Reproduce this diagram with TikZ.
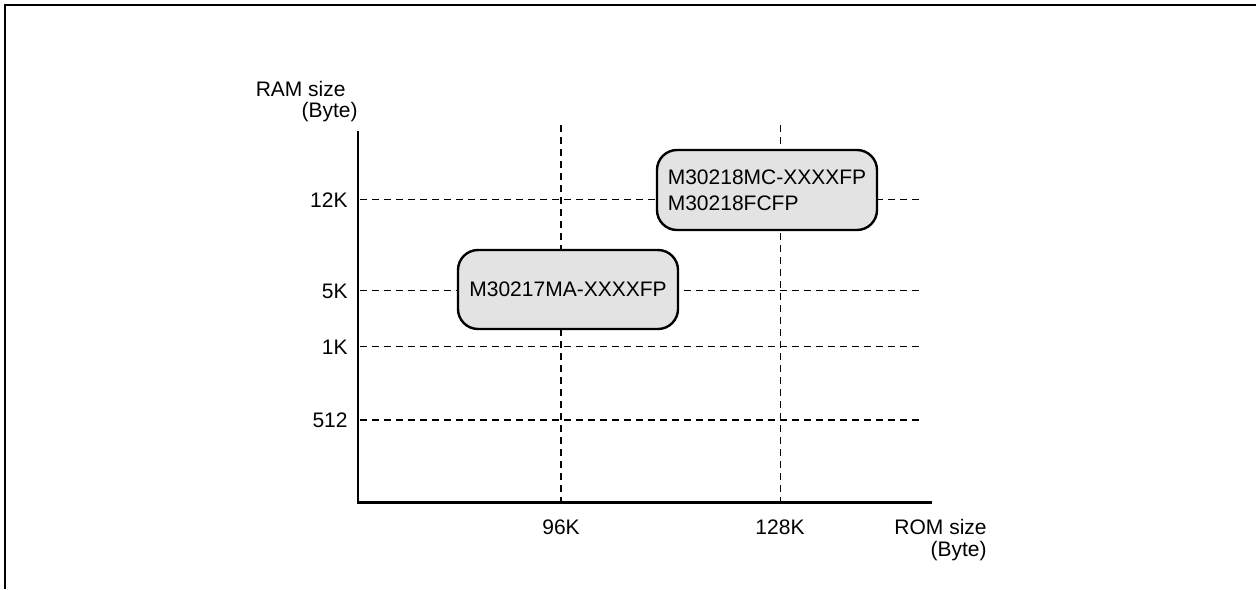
\documentclass[tikz,border=0pt]{standalone}
\usepackage{fontspec}
\setmainfont{Liberation Sans}
\definecolor{boxgray}{HTML}{E3E3E3}
\begin{document}
\begin{tikzpicture}[x=0.5pt,y=-0.5pt,
  lbl/.style={inner sep=0pt, font=\fontsize{10.5}{13}\selectfont},
  grid/.style={line width=0.7pt, dash pattern=on 3.6pt off 2.4pt},
  axis/.style={line width=1.4pt},
  chip/.style={draw, line width=1.2pt, fill=boxgray, rounded corners=10pt, inner sep=0pt, font=\fontsize{10.5}{13}\selectfont}]
\useasboundingbox (0,0) rectangle (1256,589);
\draw[line width=1pt] (4.5,589) -- (4.5,5) -- (1256,5);
% grid lines
\coordinate (h12a) at (360,199.5); \coordinate (h12b) at (922,199.5);
\coordinate (h5a) at (360,290.5); \coordinate (h5b) at (922,290.5);
\coordinate (h1a) at (360,346.5); \coordinate (h1b) at (922,346.5);
\coordinate (h512a) at (360,420); \coordinate (h512b) at (922,420);
\coordinate (v96a) at (561,125); \coordinate (v96b) at (561,501);
\coordinate (v128a) at (780.5,125); \coordinate (v128b) at (780.5,501);
\draw[grid] (h12a) -- (h12b);
\draw[grid] (h5a) -- (h5b);
\draw[grid] (h1a) -- (h1b);
\draw[grid] (h512a) -- (h512b);
\draw[grid] (v96a) -- (v96b);
\draw[grid] (v128a) -- (v128b);
% axes
\coordinate (ytop) at (358,131);
\coordinate (orig) at (358,502.5);
\coordinate (xend) at (932,502.5);
\draw[axis] (ytop) -- (orig) -- (xend);
% chips
\node[chip, minimum width=110pt, minimum height=40pt, align=left] (c218) at (767,190) {M30218MC-XXXXFP\\M30218FCFP};
\node[chip, minimum width=110pt, minimum height=39.5pt] (c217) at (568,289.5) {M30217MA-XXXXFP};
% y labels
\node[lbl, anchor=east] (l12) at (348,200) {12K};
\node[lbl, anchor=east] (l5) at (348,291) {5K};
\node[lbl, anchor=east] (l1) at (348,347) {1K};
\node[lbl, anchor=east] (l512) at (348,420) {512};
\node[lbl, anchor=east] (ram1) at (346,89) {RAM size};
\node[lbl, anchor=east] (ram2) at (358,112) {(Byte)};
% x labels
\node[lbl] (l96) at (561,527) {96K};
\node[lbl] (l128) at (780,527) {128K};
\node[lbl, anchor=east] (rom1) at (987,527) {ROM size};
\node[lbl, anchor=east] (rom2) at (987,551) {(Byte)};
\end{tikzpicture}
\end{document}
